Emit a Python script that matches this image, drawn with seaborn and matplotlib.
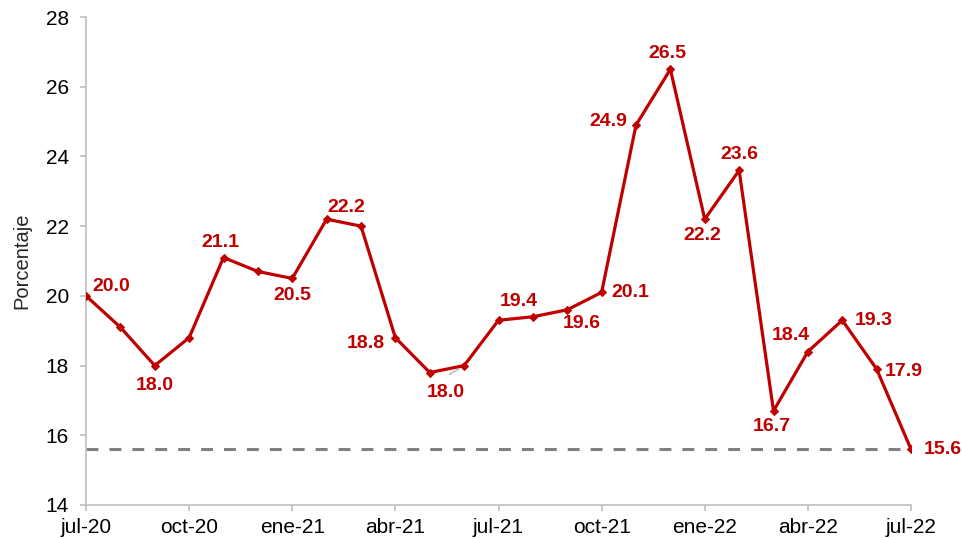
import numpy as np
import pandas as pd
import matplotlib
matplotlib.use('Agg')
import matplotlib.pyplot as plt
import seaborn as sns

# 数据
meses = ['jul-20', 'ago-20', 'sep-20', 'oct-20', 'nov-20', 'dic-20',
         'ene-21', 'feb-21', 'mar-21', 'abr-21', 'may-21', 'jun-21',
         'jul-21', 'ago-21', 'sep-21', 'oct-21', 'nov-21', 'dic-21',
         'ene-22', 'feb-22', 'mar-22', 'abr-22', 'may-22', 'jun-22', 'jul-22']
valores = [20.0, 19.1, 18.0, 18.8, 21.1, 20.7,
           20.5, 22.2, 22.0, 18.8, 17.8, 18.0,
           19.3, 19.4, 19.6, 20.1, 24.9, 26.5,
           22.2, 23.6, 16.7, 18.4, 19.3, 17.9, 15.6]
referencia = 15.6
tick_labels = ['jul-20', 'oct-20', 'ene-21', 'abr-21', 'jul-21',
               'oct-21', 'ene-22', 'abr-22', 'jul-22']

# 标注: 索引 -> (dx px, dy px, ha)
etiquetas = {0: (6, 9, 'left'), 2: (0, -20, 'center'), 4: (-3, 15, 'center'),
             6: (0, -17, 'center'), 7: (20, 12, 'center'), 9: (-11, -6, 'right'),
             11: (-18, -27, 'center'), 13: (-14, 15, 'center'), 14: (15, -14, 'center'),
             15: (10, 0, 'left'), 16: (-9, 4, 'right'), 17: (-3, 16, 'center'),
             18: (-3, -16, 'center'), 19: (0, 16, 'center'), 20: (-2, -16, 'center'),
             21: (-17, 16, 'center'), 22: (13, 0, 'left'), 23: (8, -2, 'left'),
             24: (13, 0, 'left')}

sns.set_style('white')
plt.rcParams['font.family'] = ['Liberation Sans', 'DejaVu Sans']

rojo = '#C00000'
gris = '#BFBFBF'

df = pd.DataFrame({'idx': np.arange(len(meses)), 'mes': meses, 'valor': valores})

fig = plt.figure(figsize=(9.63, 5.38), dpi=100)
ax = fig.add_axes([86/963, 1-505/538, (911-86)/963, (505-17)/538])

ax.plot([0, len(meses)-1], [referencia, referencia], color='#808080', lw=2.2,
        ls=(0, (3.9, 3.6)), zorder=1)
sns.lineplot(data=df, x='idx', y='valor', ax=ax, color=rojo, lw=2.3,
             marker='D', markersize=4, markeredgecolor=rojo, zorder=3)

px = 72/100
for i, (dx, dy, ha) in etiquetas.items():
    ax.annotate(f'{valores[i]:.1f}', xy=(i, valores[i]), xytext=(dx*px, dy*px),
                textcoords='offset points', ha=ha, va='center', fontsize=14,
                fontweight='bold', color=rojo, annotation_clip=False)

# 引导线
ax.annotate('', xy=(11 - 0.08, valores[11] - 0.05), xytext=(11 - 0.5, valores[11] - 0.3),
            arrowprops=dict(arrowstyle='-', color='#A6A6A6', lw=0.8))

ax.set_xlim(0, len(meses)-1)
ax.set_ylim(14, 28)
ax.set_yticks(np.arange(14, 29, 2))
ax.set_xticks(np.arange(0, len(meses), 3))
ax.set_xticklabels(tick_labels)
ax.set_xlabel('')
ax.set_ylabel('Porcentaje', fontsize=14.5, labelpad=10)

for s in ['top', 'right']:
    ax.spines[s].set_visible(False)
for s in ['left', 'bottom']:
    ax.spines[s].set_color(gris)
    ax.spines[s].set_linewidth(1.2)
ax.tick_params(axis='both', direction='out', length=4.3, width=1.2, color=gris,
               labelsize=15, labelcolor='black', left=True, bottom=True)
ax.tick_params(axis='y', pad=8)
ax.tick_params(axis='x', pad=5)

fig.savefig('out.png', dpi=100)
